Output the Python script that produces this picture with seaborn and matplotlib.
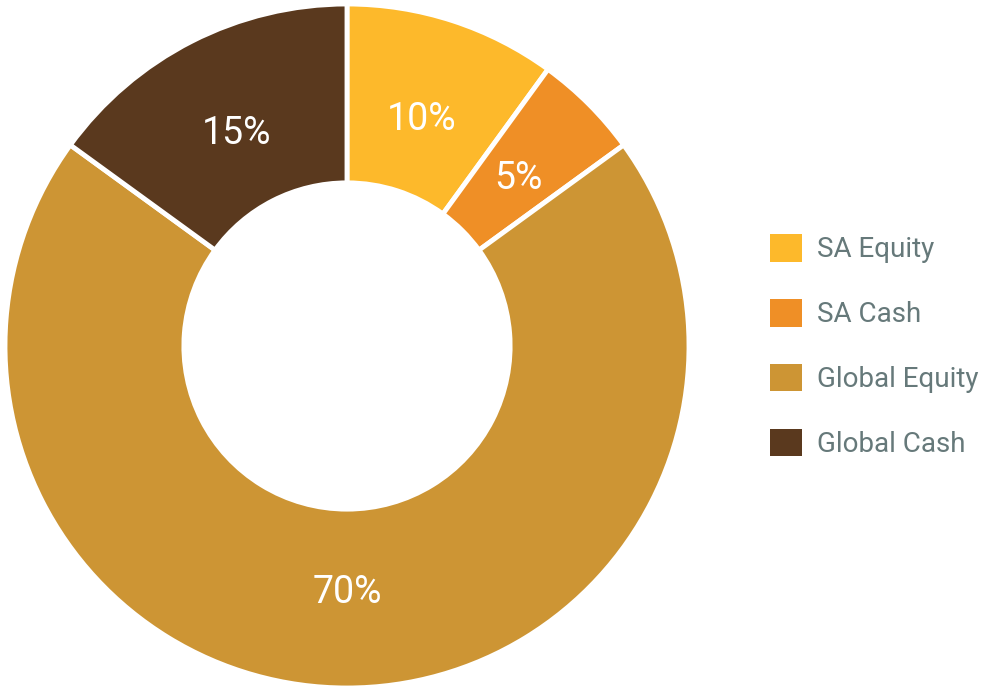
import matplotlib
matplotlib.use("Agg")
import matplotlib.pyplot as plt
import seaborn as sns

# data
categories = ["SA Equity", "SA Cash", "Global Equity", "Global Cash"]
shares = [10, 5, 70, 15]
colors = ["#FDB92B", "#EF8F26", "#CD9534", "#5A391E"]

sns.set_theme(style="white")
plt.rcParams["font.family"] = ["Roboto", "DejaVu Sans"]
palette = sns.color_palette(colors)

fig = plt.figure(figsize=(9.83, 6.93), dpi=100)
W, H = 983, 693
cx, cy, r = 347, 346, 342
ax = fig.add_axes([(cx - r) / W, (H - cy - r) / H, 2 * r / W, 2 * r / H])

wedges, texts = ax.pie(
    shares, colors=palette, startangle=90, counterclock=False,
    labels=[f"{s}%" for s in shares], labeldistance=0.71,
    wedgeprops=dict(width=0.523, edgecolor="white", linewidth=3.5),
    textprops=dict(color="white", fontsize=27, ha="center", va="center_baseline"),
)
ax.set_xlim(-1, 1)
ax.set_ylim(-1, 1)
ax.set_aspect("equal")
ax.axis("off")

leg = fig.legend(
    wedges, categories, loc="center left", bbox_to_anchor=(770 / W, 1 - 346 / H),
    frameon=False, fontsize=20, labelcolor="#66797A",
    handlelength=1.15, handleheight=1.15, handletextpad=0.55, labelspacing=1.28,
    borderpad=0, borderaxespad=0,
)
for h in leg.legend_handles:
    h.set_edgecolor("none")
    h.set_linewidth(0)

fig.savefig("out.png", dpi=100)
